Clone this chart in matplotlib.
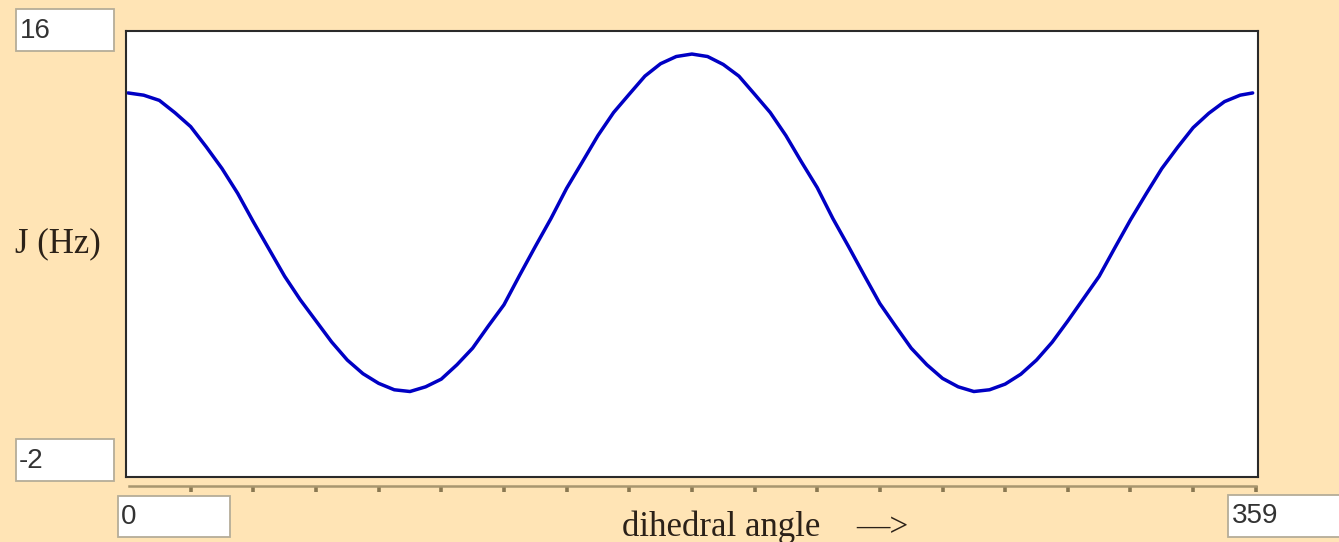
import matplotlib
matplotlib.use("Agg")
import matplotlib.pyplot as plt
from matplotlib.patches import Rectangle

# coupling constant vs dihedral angle
angles = [0, 5, 10, 15, 20, 25, 30, 35, 40, 45, 50, 55, 60, 65, 70, 75, 80, 85,
          90, 95, 100, 105, 110, 115, 120, 125, 130, 135, 140, 145, 150, 155, 160, 165, 170, 175,
          180, 185, 190, 195, 200, 205, 210, 215, 220, 225, 230, 235, 240, 245, 250, 255, 260, 265,
          270, 275, 280, 285, 290, 295, 300, 305, 310, 315, 320, 325, 330, 335, 340, 345, 350, 355, 359]
j_hz = [13.50, 13.41, 13.20, 12.70, 12.14, 11.32, 10.45, 9.45, 8.30, 7.20, 6.10, 5.15, 4.30, 3.45, 2.72, 2.17, 1.78, 1.52,
        1.45, 1.64, 1.95, 2.53, 3.20, 4.09, 4.95, 6.14, 7.30, 8.43, 9.65, 10.71, 11.78, 12.71, 13.45, 14.18, 14.68, 14.97,
        15.07, 14.97, 14.65, 14.18, 13.45, 12.71, 11.78, 10.71, 9.68, 8.43, 7.30, 6.14, 5.00, 4.09, 3.20, 2.53, 1.98, 1.64,
        1.45, 1.52, 1.75, 2.15, 2.72, 3.44, 4.30, 5.20, 6.10, 7.25, 8.38, 9.43, 10.45, 11.30, 12.10, 12.68, 13.15, 13.41, 13.50]

y_min_label = "-2"
y_max_label = "16"
x_min_label = "0"
x_max_label = "359"
minor_ticks = list(range(20, 361, 20))

W, H = 1339, 542
bg = "#FFE4B5"


def fx(px):
    return px / W


def fy(py):
    return 1 - py / H


fig = plt.figure(figsize=(W / 100, H / 100), dpi=100, facecolor=bg)

left, right, top, bottom = 126, 1258, 31, 477
ax = fig.add_axes([fx(left), fy(bottom), fx(right - left), (bottom - top) / H])
ax.set_facecolor("white")
ax.plot(angles, j_hz, color="#0000C4", lw=2.5, solid_capstyle="round", solid_joinstyle="round")
ax.set_xlim(-0.64, 360.7)
ax.set_ylim(-2, 16)
ax.set_xticks([])
ax.set_yticks([])
for s in ax.spines.values():
    s.set_color("#2a2a2a")
    s.set_linewidth(1.5)

# separate tick ruler under the plot
axt = fig.add_axes([fx(left), fy(486), fx(right - left), 0.0001])
axt.set_xlim(ax.get_xlim())
axt.patch.set_visible(False)
for k in ("top", "left", "right"):
    axt.spines[k].set_visible(False)
axt.spines["bottom"].set_color("#a8966f")
axt.spines["bottom"].set_linewidth(1.8)
axt.spines["bottom"].set_bounds(0.3, 360)
axt.set_yticks([])
axt.set_xticks(minor_ticks)
axt.tick_params(axis="x", direction="out", length=4.5, width=2.6, color="#8a7852", labelbottom=False)


def label_box(x0, y0, x1, y1, txt, tx, ty):
    fig.patches.append(Rectangle((fx(x0), fy(y1)), fx(x1 - x0), (y1 - y0) / H,
                                 transform=fig.transFigure, facecolor="white",
                                 edgecolor="#b5ad98", lw=1.3))
    fig.text(fx(tx), fy(ty), txt, family="Liberation Sans", fontsize=20,
             color="#333333", ha="left", va="center")


label_box(16, 9, 114, 51, y_max_label, 20, 31)
label_box(16, 439, 114, 481, y_min_label, 19, 461)
label_box(118, 496, 230, 537, x_min_label, 121, 517)
label_box(1228, 495, 1345, 537, x_max_label, 1232, 516)

fig.text(fx(15), fy(252), "J (Hz)", family="Liberation Serif", fontsize=25,
         color="#2b2118", ha="left", va="baseline")
fig.text(fx(622), fy(536), "dihedral angle", family="Liberation Serif", fontsize=25,
         color="#2b2118", ha="left", va="baseline")
fig.text(fx(856), fy(536), "\u2014>", family="Liberation Serif", fontsize=24,
         color="#2b2118", ha="left", va="baseline")

fig.savefig("out.png", dpi=100, facecolor=bg)
